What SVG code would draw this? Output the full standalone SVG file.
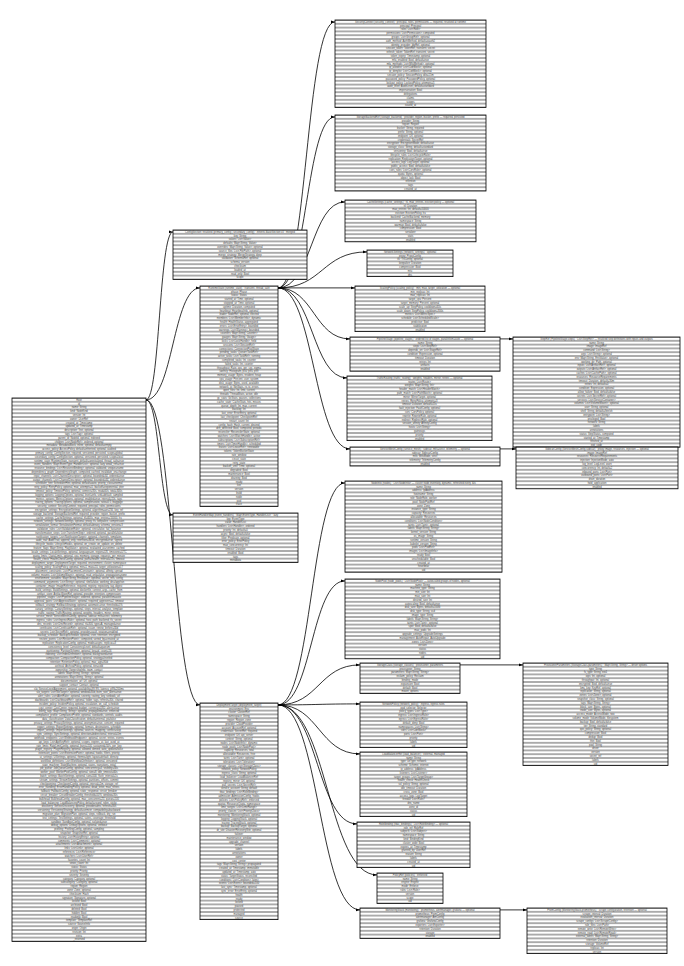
<svg xmlns="http://www.w3.org/2000/svg" width="684" height="966" viewBox="0 0 684 966">
<style>
.node rect{fill:url(#rows);stroke:#000;stroke-width:0.8}
.node text{font-family:"Liberation Sans",Arial,sans-serif;font-size:2.6px;fill:#444;text-anchor:middle}
.edges path{fill:none;stroke:#000;stroke-width:0.8;marker-end:url(#ah)}
</style>
<defs>
<pattern id="rows" width="4" height="3.8" patternUnits="userSpaceOnUse"><rect width="4" height="3.8" fill="#fff"/><rect y="0" width="4" height="0.32" fill="#000"/><rect y="3.48" width="4" height="0.32" fill="#000"/></pattern>
<marker id="ah" markerWidth="4" markerHeight="4" refX="4" refY="2" orient="auto" markerUnits="userSpaceOnUse"><path d="M0,0.6L4,2L0,3.4z" fill="#000"/></marker>
</defs>
<rect width="684" height="966" fill="#fff"/>
<g class="edges">
<path d="M146,399.9C160,399.9 159,231.9 173,231.9"/>
<path d="M146,399.9C173,399.9 173,287.9 200,287.9"/>
<path d="M146,399.9C160,399.9 159,514.9 173,514.9"/>
<path d="M146,399.9C173,399.9 173,704.9 200,704.9"/>
<path d="M278,287.9C307,287.9 306,21.9 335,21.9"/>
<path d="M278,287.9C307,287.9 306,116.9 335,116.9"/>
<path d="M278,287.9C312,287.9 311,201.9 345,201.9"/>
<path d="M278,287.9C323,287.9 322,251.9 367,251.9"/>
<path d="M278,287.9L355,287.9"/>
<path d="M278,287.9C314,287.9 314,338.9 350,338.9"/>
<path d="M278,287.9C313,287.9 312,377.9 347,377.9"/>
<path d="M278,287.9C314,287.9 314,448.9 350,448.9"/>
<path d="M278,704.9C312,704.9 311,482.9 345,482.9"/>
<path d="M278,704.9C312,704.9 311,580.9 345,580.9"/>
<path d="M278,704.9C319,704.9 319,664.9 360,664.9"/>
<path d="M278,704.9C319,704.9 319,703.9 360,703.9"/>
<path d="M278,704.9C319,704.9 319,753.9 360,753.9"/>
<path d="M278,704.9C318,704.9 317,823.9 357,823.9"/>
<path d="M278,704.9C328,704.9 327,874.9 377,874.9"/>
<path d="M278,704.9C319,704.9 319,909.9 360,909.9"/>
<path d="M500,338.9L513,338.9"/>
<path d="M500,448.9L516,448.9"/>
<path d="M460,664.9L523,664.9"/>
<path d="M500,909.9L527,909.9"/>
</g>
<g id="n_A" class="node" transform="translate(12,398)"><rect width="134" height="543.4"/><text y="2.8"><tspan x="67">Root</tspan><tspan x="67" dy="3.8">id</tspan><tspan x="67" dy="3.8">name: String</tspan><tspan x="67" dy="3.8">kind: NodeKind</tspan><tspan x="67" dy="3.8">version: Int</tspan><tspan x="67" dy="3.8">owner: UserRef</tspan><tspan x="67" dy="3.8">created_at: Timestamp</tspan><tspan x="67" dy="3.8">updated_at: Timestamp</tspan><tspan x="67" dy="3.8">description: Text, optional</tspan><tspan x="67" dy="3.8">tags: List&lt;Tag&gt;, optional</tspan><tspan x="67" dy="3.8">parent_id: NodeId, optional, indexed</tspan><tspan x="67" dy="3.8">children: List&lt;NodeRef&gt;, ordered, optional</tspan><tspan x="67" dy="3.8">metadata: MetadataBlock, inline, optional, default=empty</tspan><tspan x="67" dy="3.8">access_policy: AccessPolicy, default=inherited, optional, audited</tspan><tspan x="67" dy="3.8">primary_config: ConfigSection, required, versioned, persisted, scope=global</tspan><tspan x="67" dy="3.8">secondary_config: ConfigSection, optional, versioned, persisted, scope=local</tspan><tspan x="67" dy="3.8">runtime_state: RuntimeState, transient, default=uninitialized, thread_safe=true</tspan><tspan x="67" dy="3.8">event_handlers: Map&lt;EventType, HandlerList&gt;, optional, lazy, weak_refs=true</tspan><tspan x="67" dy="3.8">resource_bindings: List&lt;ResourceBinding&gt;, optional, validated, unique=name</tspan><tspan x="67" dy="3.8">dependency_graph: DependencyGraph, computed, cached, invalidate_on=change</tspan><tspan x="67" dy="3.8">input_channels: List&lt;ChannelDescriptor&gt;, optional, bounded=64, ordered=true</tspan><tspan x="67" dy="3.8">output_channels: List&lt;ChannelDescriptor&gt;, optional, bounded=64, ordered=true</tspan><tspan x="67" dy="3.8">scheduler_hint: SchedulerHint, optional, default=auto, priority_class=normal</tspan><tspan x="67" dy="3.8">retry_policy: RetryPolicy, optional, max_attempts=5, backoff=exponential, jitter</tspan><tspan x="67" dy="3.8">timeout_policy: TimeoutPolicy, optional, connect=30s, read=60s, total=300s</tspan><tspan x="67" dy="3.8">logging_options: LoggingOptions, optional, level=info, sink=default, sampled</tspan><tspan x="67" dy="3.8">metrics_options: MetricsOptions, optional, enabled=true, interval=10s, tags</tspan><tspan x="67" dy="3.8">tracing_options: TracingOptions, optional, sampler=ratio, ratio=0.1, baggage</tspan><tspan x="67" dy="3.8">security_context: SecurityContext, required, principal, roles, permissions</tspan><tspan x="67" dy="3.8">encryption_settings: EncryptionSettings, optional, algorithm=aes256, key_ref</tspan><tspan x="67" dy="3.8">storage_backend: StorageBackendRef, required, provider, region, bucket, prefix</tspan><tspan x="67" dy="3.8">cache_settings: CacheSettings, optional, ttl=600s, max_entries=10000, lru</tspan><tspan x="67" dy="3.8">network_settings: NetworkSettings, optional, proxy, tls, keepalive, compression</tspan><tspan x="67" dy="3.8">serialization_format: SerializationFormat, default=binary, schema_version=3</tspan><tspan x="67" dy="3.8">validation_rules: List&lt;ValidationRule&gt;, optional, strict=false, fail_fast=true</tspan><tspan x="67" dy="3.8">transformation_steps: List&lt;TransformStep&gt;, ordered, optional, parallel=false</tspan><tspan x="67" dy="3.8">notification_targets: List&lt;NotificationTarget&gt;, optional, channels, templates</tspan><tspan x="67" dy="3.8">audit_trail: AuditTrail, append_only, retention=365d, encrypted=true, signed</tspan><tspan x="67" dy="3.8">lifecycle_hooks: LifecycleHooks, optional, on_create, on_update, on_delete</tspan><tspan x="67" dy="3.8">feature_flags: Map&lt;String, FlagValue&gt;, optional, evaluated_at=runtime, cached</tspan><tspan x="67" dy="3.8">locale_settings: LocaleSettings, optional, language=en, region=US, timezone=UTC</tspan><tspan x="67" dy="3.8">quota_limits: QuotaLimits, optional, cpu, memory, storage, requests_per_minute</tspan><tspan x="67" dy="3.8">health_check: HealthCheckConfig, optional, path=/health, interval=15s, timeout</tspan><tspan x="67" dy="3.8">deployment_target: DeploymentTarget, required, environment, cluster, namespace</tspan><tspan x="67" dy="3.8">scaling_policy: ScalingPolicy, optional, min=1, max=10, target_utilization=0.7</tspan><tspan x="67" dy="3.8">placement_constraints: List&lt;PlacementConstraint&gt;, optional, affinity, spread</tspan><tspan x="67" dy="3.8">volume_mounts: List&lt;VolumeMount&gt;, optional, read_only=false, propagation=none</tspan><tspan x="67" dy="3.8">environment_variables: Map&lt;String, EnvValue&gt;, optional, secret_refs, config</tspan><tspan x="67" dy="3.8">command_arguments: List&lt;String&gt;, optional, shell=false, working_dir=/app/run</tspan><tspan x="67" dy="3.8">container_image: ImageReference, required, registry, repository, tag, digest</tspan><tspan x="67" dy="3.8">build_settings: BuildSettings, optional, dockerfile, context, args, cache_from</tspan><tspan x="67" dy="3.8">artifact_store: ArtifactStoreRef, optional, provider, retention, compression</tspan><tspan x="67" dy="3.8">pipeline_stages: List&lt;PipelineStage&gt;, ordered, optional, parallelism=auto</tspan><tspan x="67" dy="3.8">approval_gates: List&lt;ApprovalGate&gt;, optional, required_approvers=2, timeout</tspan><tspan x="67" dy="3.8">rollback_strategy: RollbackStrategy, optional, automatic=true, threshold=5%</tspan><tspan x="67" dy="3.8">canary_settings: CanarySettings, optional, steps, interval, analysis_template</tspan><tspan x="67" dy="3.8">traffic_routing: TrafficRouting, optional, weights, headers, mirror, retries</tspan><tspan x="67" dy="3.8">service_mesh: ServiceMeshConfig, optional, sidecar, mtls=strict, telemetry</tspan><tspan x="67" dy="3.8">ingress_rules: List&lt;IngressRule&gt;, optional, host, path, backend, tls_secret</tspan><tspan x="67" dy="3.8">dns_records: List&lt;DnsRecord&gt;, optional, ttl=300, type=A, managed=true</tspan><tspan x="67" dy="3.8">certificates: List&lt;CertificateRef&gt;, optional, issuer, renew_before=30d</tspan><tspan x="67" dy="3.8">secrets: List&lt;SecretRef&gt;, optional, provider=vault, rotation=enabled</tspan><tspan x="67" dy="3.8">backup_schedule: BackupSchedule, optional, cron, retention, encrypted</tspan><tspan x="67" dy="3.8">restore_points: List&lt;RestorePoint&gt;, computed, sorted_by=created_at</tspan><tspan x="67" dy="3.8">replication: ReplicationConfig, optional, mode=async, replicas=3</tspan><tspan x="67" dy="3.8">consistency_level: ConsistencyLevel, default=quorum</tspan><tspan x="67" dy="3.8">partitioning: PartitionScheme, optional, key=id, count=16</tspan><tspan x="67" dy="3.8">indexing: List&lt;IndexDefinition&gt;, optional, background=true</tspan><tspan x="67" dy="3.8">compaction: CompactionPolicy, optional, strategy=leveled</tspan><tspan x="67" dy="3.8">retention: RetentionPolicy, optional, max_age=90d</tspan><tspan x="67" dy="3.8">archival: ArchivalPolicy, optional, tier=cold</tspan><tspan x="67" dy="3.8">ownership: OwnershipInfo, team, contact</tspan><tspan x="67" dy="3.8">labels: Map&lt;String, String&gt;, optional</tspan><tspan x="67" dy="3.8">annotations: Map&lt;String, String&gt;, optional</tspan><tspan x="67" dy="3.8">documentation_url: Url, optional</tspan><tspan x="67" dy="3.8">support_contact: Contact, optional</tspan><tspan x="67" dy="3.8">sla: ServiceLevelAgreement, optional, availability=99.9%, latency_p99=200ms</tspan><tspan x="67" dy="3.8">slo_targets: List&lt;SloTarget&gt;, optional, window=30d, burn_rate_alerts=true</tspan><tspan x="67" dy="3.8">alert_rules: List&lt;AlertRule&gt;, optional, severity, routing_key, runbook_url</tspan><tspan x="67" dy="3.8">dashboards: List&lt;DashboardRef&gt;, optional, folder, tags, refresh=30s, shared</tspan><tspan x="67" dy="3.8">incident_policy: IncidentPolicy, optional, escalation, on_call_schedule</tspan><tspan x="67" dy="3.8">cost_center: CostCenter, required, budget, currency=USD, alerts=true</tspan><tspan x="67" dy="3.8">billing_tags: Map&lt;String, String&gt;, optional, propagated=true, enforced</tspan><tspan x="67" dy="3.8">compliance_profile: ComplianceProfile, optional, standards, controls, audits</tspan><tspan x="67" dy="3.8">data_classification: DataClassification, default=internal, pii=false</tspan><tspan x="67" dy="3.8">privacy_settings: PrivacySettings, optional, anonymize=true, consent_required</tspan><tspan x="67" dy="3.8">export_settings: ExportSettings, optional, formats, destinations, schedule</tspan><tspan x="67" dy="3.8">import_settings: ImportSettings, optional, sources, mapping, conflict=skip</tspan><tspan x="67" dy="3.8">sync_settings: SyncSettings, optional, direction=bidirectional, interval=5m</tspan><tspan x="67" dy="3.8">webhook_endpoints: List&lt;WebhookEndpoint&gt;, optional, secret, retries, events</tspan><tspan x="67" dy="3.8">api_keys: List&lt;ApiKeyRef&gt;, optional, scopes, expires_at, last_used_at</tspan><tspan x="67" dy="3.8">rate_limits: RateLimitConfig, optional, burst=100, sustained=50/s, per_key</tspan><tspan x="67" dy="3.8">plugin_registry: PluginRegistry, optional, allowed, denied, auto_update=false</tspan><tspan x="67" dy="3.8">extension_points: List&lt;ExtensionPoint&gt;, optional, hooks, filters, priority</tspan><tspan x="67" dy="3.8">ui_settings: UiSettings, optional, theme=light, layout=default, density</tspan><tspan x="67" dy="3.8">workflow_definitions: List&lt;WorkflowDefinition&gt;, optional, versioned</tspan><tspan x="67" dy="3.8">state_machine: StateMachine, optional, states, transitions, initial</tspan><tspan x="67" dy="3.8">job_queue: JobQueueConfig, optional, concurrency=4, visibility=30s</tspan><tspan x="67" dy="3.8">worker_pool: WorkerPoolConfig, optional, size=8, idle_timeout=60s</tspan><tspan x="67" dy="3.8">batch_settings: BatchSettings, optional, size=500, flush_interval=1s</tspan><tspan x="67" dy="3.8">stream_settings: StreamSettings, optional, partitions, offsets, commit</tspan><tspan x="67" dy="3.8">checkpointing: CheckpointConfig, optional, interval=1m, storage_ref</tspan><tspan x="67" dy="3.8">error_handling: ErrorHandlingPolicy, optional, dead_letter, max_retries</tspan><tspan x="67" dy="3.8">fallback: FallbackConfig, optional, static_response, circuit_breaker</tspan><tspan x="67" dy="3.8">circuit_breaker: CircuitBreakerConfig, threshold=50%, window=30s</tspan><tspan x="67" dy="3.8">bulkhead: BulkheadConfig, optional, max_concurrent=20, queue=100</tspan><tspan x="67" dy="3.8">load_balancing: LoadBalancingPolicy, default=round_robin, sticky</tspan><tspan x="67" dy="3.8">discovery: ServiceDiscovery, optional, provider=dns, refresh=30s</tspan><tspan x="67" dy="3.8">versioning: VersioningStrategy, default=semver, compatibility=backward</tspan><tspan x="67" dy="3.8">migration_plan: MigrationPlan, optional, steps, rollback, dry_run</tspan><tspan x="67" dy="3.8">test_settings: TestSettings, optional, suites, coverage_threshold</tspan><tspan x="67" dy="3.8">sandbox: SandboxConfig, optional, isolated=true</tspan><tspan x="67" dy="3.8">debug_options: DebugOptions, optional, verbose</tspan><tspan x="67" dy="3.8">profiling: ProfilingConfig, optional, sampling</tspan><tspan x="67" dy="3.8">snapshot: SnapshotRef, optional</tspan><tspan x="67" dy="3.8">history: List&lt;HistoryEntry&gt;, optional</tspan><tspan x="67" dy="3.8">comments: List&lt;Comment&gt;, optional</tspan><tspan x="67" dy="3.8">attachments: List&lt;Attachment&gt;, optional</tspan><tspan x="67" dy="3.8">links: List&lt;Link&gt;, optional</tspan><tspan x="67" dy="3.8">references: List&lt;Reference&gt;</tspan><tspan x="67" dy="3.8">watchers: List&lt;UserRef&gt;</tspan><tspan x="67" dy="3.8">favorites_count: Int</tspan><tspan x="67" dy="3.8">views_count: Int</tspan><tspan x="67" dy="3.8">status: Status</tspan><tspan x="67" dy="3.8">priority: Priority</tspan><tspan x="67" dy="3.8">severity: Severity</tspan><tspan x="67" dy="3.8">category: Category, optional</tspan><tspan x="67" dy="3.8">subcategory: Category, optional</tspan><tspan x="67" dy="3.8">region: Region</tspan><tspan x="67" dy="3.8">zone: Zone, optional</tspan><tspan x="67" dy="3.8">checksum: Hash</tspan><tspan x="67" dy="3.8">signature: Signature, optional</tspan><tspan x="67" dy="3.8">locked: Bool</tspan><tspan x="67" dy="3.8">archived: Bool</tspan><tspan x="67" dy="3.8">deleted: Bool</tspan><tspan x="67" dy="3.8">hidden: Bool</tspan><tspan x="67" dy="3.8">readonly: Bool</tspan><tspan x="67" dy="3.8">template: TemplateRef</tspan><tspan x="67" dy="3.8">source: SourceInfo</tspan><tspan x="67" dy="3.8">origin: Origin</tspan><tspan x="67" dy="3.8">revision: Int</tspan><tspan x="67" dy="3.8">extra</tspan><tspan x="67" dy="3.8">_reserved</tspan></text></g>
<g id="n_B" class="node" transform="translate(173,230)"><rect width="134" height="49.4"/><text y="2.8"><tspan x="67">ConfigSection::resolved (primary_config | secondary_config) · inherits BaseSection v3 · merged</tspan><tspan x="67" dy="3.8">key: String</tspan><tspan x="67" dy="3.8">values: List&lt;Value&gt;</tspan><tspan x="67" dy="3.8">defaults: Map&lt;String, Value&gt;</tspan><tspan x="67" dy="3.8">overrides: Map&lt;String, Value&gt;, optional</tspan><tspan x="67" dy="3.8">source_files: List&lt;FilePath&gt;, optional</tspan><tspan x="67" dy="3.8">merge_strategy: MergeStrategy, deep</tspan><tspan x="67" dy="3.8">validation: SchemaRef, optional</tspan><tspan x="67" dy="3.8">schema_version</tspan><tspan x="67" dy="3.8">checksum</tspan><tspan x="67" dy="3.8">loaded_at</tspan><tspan x="67" dy="3.8">read_only: Bool</tspan><tspan x="67" dy="3.8">scope</tspan></text></g>
<g id="n_C" class="node" transform="translate(200,286)"><rect width="78" height="220.4"/><text y="2.8"><tspan x="39">RuntimeState (runtime_state) · transient, thread_safe</tspan><tspan x="39" dy="3.8">phase: Phase</tspan><tspan x="39" dy="3.8">status: Status</tspan><tspan x="39" dy="3.8">started_at: Time, optional</tspan><tspan x="39" dy="3.8">stopped_at: Time, optional</tspan><tspan x="39" dy="3.8">uptime: Duration, computed</tspan><tspan x="39" dy="3.8">heartbeat: HeartbeatInfo, optional</tspan><tspan x="39" dy="3.8">leader: NodeRef, optional, elected</tspan><tspan x="39" dy="3.8">members: List&lt;MemberInfo&gt;, dynamic</tspan><tspan x="39" dy="3.8">health: HealthStatus, aggregated</tspan><tspan x="39" dy="3.8">errors: List&lt;ErrorEntry&gt;, bounded</tspan><tspan x="39" dy="3.8">warnings: List&lt;Warning&gt;, bounded</tspan><tspan x="39" dy="3.8">counters: Map&lt;String, Counter&gt;</tspan><tspan x="39" dy="3.8">gauges: Map&lt;String, Gauge&gt;</tspan><tspan x="39" dy="3.8">locks: List&lt;LockHandle&gt;, held</tspan><tspan x="39" dy="3.8">sessions: List&lt;SessionRef&gt;</tspan><tspan x="39" dy="3.8">connections: ConnectionPoolState</tspan><tspan x="39" dy="3.8">pending_tasks: Queue&lt;TaskRef&gt;</tspan><tspan x="39" dy="3.8">active_tasks: List&lt;TaskRef&gt;, running</tspan><tspan x="39" dy="3.8">completed_tasks: Int, counter</tspan><tspan x="39" dy="3.8">failed_tasks: Int, counter</tspan><tspan x="39" dy="3.8">throughput: Rate, ops_per_sec, ewma</tspan><tspan x="39" dy="3.8">latency: Histogram, p50, p95, p99</tspan><tspan x="39" dy="3.8">memory_usage: Bytes, resident, heap</tspan><tspan x="39" dy="3.8">cpu_usage: Percent, user, system</tspan><tspan x="39" dy="3.8">disk_usage: Bytes, used, available</tspan><tspan x="39" dy="3.8">network_io: NetStats, rx, tx, errors</tspan><tspan x="39" dy="3.8">open_files: Int, limit, current</tspan><tspan x="39" dy="3.8">threads: ThreadStats, active, idle</tspan><tspan x="39" dy="3.8">gc_stats: GcStats, pauses, collections</tspan><tspan x="39" dy="3.8">cache_state: CacheStats, hits, misses</tspan><tspan x="39" dy="3.8">queue_depth: Int, max, current</tspan><tspan x="39" dy="3.8">backlog: Int</tspan><tspan x="39" dy="3.8">last_error: ErrorEntry, optional</tspan><tspan x="39" dy="3.8">last_checkpoint: CheckpointRef</tspan><tspan x="39" dy="3.8">restart_count: Int</tspan><tspan x="39" dy="3.8">config_hash: Hash, current, desired</tspan><tspan x="39" dy="3.8">drift_detected: Bool, computed, periodic</tspan><tspan x="39" dy="3.8">reconciler: ReconcilerState, optional</tspan><tspan x="39" dy="3.8">watchers: List&lt;WatchHandle&gt;, active</tspan><tspan x="39" dy="3.8">subscriptions: List&lt;SubscriptionRef&gt;</tspan><tspan x="39" dy="3.8">timers: List&lt;TimerHandle&gt;, scheduled</tspan><tspan x="39" dy="3.8">leases: List&lt;LeaseRef&gt;, renewable</tspan><tspan x="39" dy="3.8">tokens: TokenBucketState</tspan><tspan x="39" dy="3.8">rate_window</tspan><tspan x="39" dy="3.8">circuit_state</tspan><tspan x="39" dy="3.8">retry_state</tspan><tspan x="39" dy="3.8">backoff_until: Time, optional</tspan><tspan x="39" dy="3.8">degraded: Bool</tspan><tspan x="39" dy="3.8">maintenance: Bool</tspan><tspan x="39" dy="3.8">draining: Bool</tspan><tspan x="39" dy="3.8">ready</tspan><tspan x="39" dy="3.8">live</tspan><tspan x="39" dy="3.8">version</tspan><tspan x="39" dy="3.8">build</tspan><tspan x="39" dy="3.8">node</tspan><tspan x="39" dy="3.8">pod</tspan><tspan x="39" dy="3.8">trace</tspan></text></g>
<g id="n_D" class="node" transform="translate(173,513)"><rect width="125" height="49.4"/><text y="2.8"><tspan x="62.5">EventHandlerMap (event_handlers) · Map&lt;EventType, HandlerList&gt; · lazy</tspan><tspan x="62.5" dy="3.8">key: EventType</tspan><tspan x="62.5" dy="3.8">value: HandlerList</tspan><tspan x="62.5" dy="3.8">handlers: List&lt;Handler&gt;, ordered</tspan><tspan x="62.5" dy="3.8">priority: Int, default=0</tspan><tspan x="62.5" dy="3.8">async: Bool, default=false</tspan><tspan x="62.5" dy="3.8">filter: Predicate, optional</tspan><tspan x="62.5" dy="3.8">error_policy: ErrorPolicy</tspan><tspan x="62.5" dy="3.8">max_concurrency: Int</tspan><tspan x="62.5" dy="3.8">timeout: Duration</tspan><tspan x="62.5" dy="3.8">enabled: Bool</tspan><tspan x="62.5" dy="3.8">tags</tspan><tspan x="62.5" dy="3.8">metadata</tspan></text></g>
<g id="n_E" class="node" transform="translate(200,703)"><rect width="78" height="216.6"/><text y="2.8"><tspan x="39">DeploymentTarget (deployment_target)</tspan><tspan x="39" dy="3.8">environment: Env</tspan><tspan x="39" dy="3.8">cluster: ClusterRef</tspan><tspan x="39" dy="3.8">namespace: String</tspan><tspan x="39" dy="3.8">region: Region, zone</tspan><tspan x="39" dy="3.8">provider: CloudProvider</tspan><tspan x="39" dy="3.8">account: AccountRef, optional</tspan><tspan x="39" dy="3.8">credentials: SecretRef, required</tspan><tspan x="39" dy="3.8">endpoint: Url, api_server</tspan><tspan x="39" dy="3.8">context: String, optional</tspan><tspan x="39" dy="3.8">nodes: List&lt;NodeInfo&gt;, dynamic</tspan><tspan x="39" dy="3.8">node_pools: List&lt;NodePool&gt;</tspan><tspan x="39" dy="3.8">capacity: Resources, total</tspan><tspan x="39" dy="3.8">allocatable: Resources, free</tspan><tspan x="39" dy="3.8">taints: List&lt;Taint&gt;, optional</tspan><tspan x="39" dy="3.8">tolerations: List&lt;Toleration&gt;</tspan><tspan x="39" dy="3.8">storage_classes: List&lt;StorageClass&gt;</tspan><tspan x="39" dy="3.8">network_policy: NetworkPolicy</tspan><tspan x="39" dy="3.8">ingress_class: String, optional</tspan><tspan x="39" dy="3.8">load_balancer: LoadBalancerRef</tspan><tspan x="39" dy="3.8">registry_mirror: Url, optional</tspan><tspan x="39" dy="3.8">pull_secrets: List&lt;SecretRef&gt;</tspan><tspan x="39" dy="3.8">service_account: String, default</tspan><tspan x="39" dy="3.8">rbac_bindings: List&lt;RoleBinding&gt;</tspan><tspan x="39" dy="3.8">admission: AdmissionConfig, hooks</tspan><tspan x="39" dy="3.8">policies: List&lt;PolicyRef&gt;, enforced</tspan><tspan x="39" dy="3.8">quotas: ResourceQuota, namespace</tspan><tspan x="39" dy="3.8">limit_ranges: List&lt;LimitRange&gt;</tspan><tspan x="39" dy="3.8">priority_classes: List&lt;PriorityClass&gt;</tspan><tspan x="39" dy="3.8">monitoring: MonitoringStack, optional</tspan><tspan x="39" dy="3.8">logging: LoggingStack, optional</tspan><tspan x="39" dy="3.8">tracing: TracingStack, optional</tspan><tspan x="39" dy="3.8">backup: BackupTarget, optional</tspan><tspan x="39" dy="3.8">dr_site: DisasterRecoverySite, optional</tspan><tspan x="39" dy="3.8">failover</tspan><tspan x="39" dy="3.8">maintenance_window</tspan><tspan x="39" dy="3.8">upgrade_channel</tspan><tspan x="39" dy="3.8">version</tspan><tspan x="39" dy="3.8">labels</tspan><tspan x="39" dy="3.8">annotations</tspan><tspan x="39" dy="3.8">owner</tspan><tspan x="39" dy="3.8">cost_center</tspan><tspan x="39" dy="3.8">tags: Map&lt;String, String&gt;, propagated</tspan><tspan x="39" dy="3.8">created_at: Timestamp, immutable</tspan><tspan x="39" dy="3.8">updated_at: Timestamp, auto</tspan><tspan x="39" dy="3.8">status: TargetStatus, reconciled</tspan><tspan x="39" dy="3.8">conditions: List&lt;Condition&gt;, latest</tspan><tspan x="39" dy="3.8">events: List&lt;Event&gt;, bounded=100</tspan><tspan x="39" dy="3.8">last_sync: Timestamp, optional</tspan><tspan x="39" dy="3.8">sync_error: ErrorEntry, optional</tspan><tspan x="39" dy="3.8">health</tspan><tspan x="39" dy="3.8">ready</tspan><tspan x="39" dy="3.8">locked</tspan><tspan x="39" dy="3.8">paused</tspan><tspan x="39" dy="3.8">protected</tspan><tspan x="39" dy="3.8">managed</tspan><tspan x="39" dy="3.8">source</tspan></text></g>
<g id="n_F1" class="node" transform="translate(335,20)"><rect width="151" height="87.4"/><text y="2.8"><tspan x="75.5">SecurityContext (security_context) · principal, roles, permissions — required, resolved at runtime</tspan><tspan x="75.5" dy="3.8">principal: Principal</tspan><tspan x="75.5" dy="3.8">roles: List&lt;Role&gt;</tspan><tspan x="75.5" dy="3.8">permissions: List&lt;Permission&gt;, computed</tspan><tspan x="75.5" dy="3.8">groups: List&lt;GroupRef&gt;, optional</tspan><tspan x="75.5" dy="3.8">auth_method: AuthMethod, default=oauth2</tspan><tspan x="75.5" dy="3.8">identity_provider: IdpRef, optional</tspan><tspan x="75.5" dy="3.8">session_token: TokenRef, transient, secret</tspan><tspan x="75.5" dy="3.8">refresh_token: TokenRef, transient, secret</tspan><tspan x="75.5" dy="3.8">token_expiry: Timestamp, optional</tspan><tspan x="75.5" dy="3.8">mfa_enabled: Bool, default=true</tspan><tspan x="75.5" dy="3.8">mfa_methods: List&lt;MfaMethod&gt;, optional</tspan><tspan x="75.5" dy="3.8">ip_allowlist: List&lt;CidrBlock&gt;, optional</tspan><tspan x="75.5" dy="3.8">ip_denylist: List&lt;CidrBlock&gt;, optional</tspan><tspan x="75.5" dy="3.8">session_policy: SessionPolicy, idle=15m</tspan><tspan x="75.5" dy="3.8">password_policy: PasswordPolicy, optional</tspan><tspan x="75.5" dy="3.8">lockout_policy: LockoutPolicy, attempts=5</tspan><tspan x="75.5" dy="3.8">audit_level: AuditLevel, default=standard</tspan><tspan x="75.5" dy="3.8">impersonation: Bool</tspan><tspan x="75.5" dy="3.8">delegations</tspan><tspan x="75.5" dy="3.8">claims</tspan><tspan x="75.5" dy="3.8">scopes</tspan><tspan x="75.5" dy="3.8">issued_at</tspan></text></g>
<g id="n_F2" class="node" transform="translate(335,115)"><rect width="151" height="76"/><text y="2.8"><tspan x="75.5">StorageBackendRef (storage_backend) · provider, region, bucket, prefix — required, persisted</tspan><tspan x="75.5" dy="3.8">provider: String</tspan><tspan x="75.5" dy="3.8">region: Region</tspan><tspan x="75.5" dy="3.8">bucket: String, required</tspan><tspan x="75.5" dy="3.8">prefix: String, optional</tspan><tspan x="75.5" dy="3.8">endpoint: Url, optional</tspan><tspan x="75.5" dy="3.8">credentials: SecretRef</tspan><tspan x="75.5" dy="3.8">encryption: EncryptionMode, default=sse</tspan><tspan x="75.5" dy="3.8">storage_class: String, default=standard</tspan><tspan x="75.5" dy="3.8">versioning: Bool, default=true</tspan><tspan x="75.5" dy="3.8">lifecycle_rules: List&lt;LifecycleRule&gt;</tspan><tspan x="75.5" dy="3.8">replication: ReplicationTarget, optional</tspan><tspan x="75.5" dy="3.8">access_logs: LogTarget, optional</tspan><tspan x="75.5" dy="3.8">public_access: Bool, default=false</tspan><tspan x="75.5" dy="3.8">cors_rules: List&lt;CorsRule&gt;, optional</tspan><tspan x="75.5" dy="3.8">quota: Bytes, optional</tspan><tspan x="75.5" dy="3.8">object_lock: Bool</tspan><tspan x="75.5" dy="3.8">retention</tspan><tspan x="75.5" dy="3.8">tags</tspan><tspan x="75.5" dy="3.8">created_at</tspan></text></g>
<g id="n_F3" class="node" transform="translate(345,200)"><rect width="131" height="41.8"/><text y="2.8"><tspan x="65.5">CacheSettings (cache_settings) · ttl, max_entries, eviction policy — optional</tspan><tspan x="65.5" dy="3.8">ttl: Duration</tspan><tspan x="65.5" dy="3.8">max_entries: Int, default=10000</tspan><tspan x="65.5" dy="3.8">eviction: EvictionPolicy, lru</tspan><tspan x="65.5" dy="3.8">backend: CacheBackend, memory</tspan><tspan x="65.5" dy="3.8">namespace: String</tspan><tspan x="65.5" dy="3.8">warmup: Bool, default=false</tspan><tspan x="65.5" dy="3.8">compression: Bool</tspan><tspan x="65.5" dy="3.8">serializer</tspan><tspan x="65.5" dy="3.8">stats</tspan><tspan x="65.5" dy="3.8">enabled</tspan></text></g>
<g id="n_F4" class="node" transform="translate(367,250)"><rect width="86" height="26.6"/><text y="2.8"><tspan x="43">NetworkSettings (network_settings) · optional</tspan><tspan x="43" dy="3.8">proxy: ProxyConfig</tspan><tspan x="43" dy="3.8">tls: TlsConfig, optional</tspan><tspan x="43" dy="3.8">keepalive: Duration</tspan><tspan x="43" dy="3.8">compression: Bool</tspan><tspan x="43" dy="3.8">mtu</tspan><tspan x="43" dy="3.8">dns</tspan></text></g>
<g id="n_F5" class="node" transform="translate(355,286)"><rect width="130" height="45.6"/><text y="2.8"><tspan x="65">ScalingPolicy (scaling_policy) · min, max, target_utilization — optional</tspan><tspan x="65" dy="3.8">min_replicas: Int</tspan><tspan x="65" dy="3.8">max_replicas: Int</tspan><tspan x="65" dy="3.8">target_cpu: Percent</tspan><tspan x="65" dy="3.8">target_memory: Percent, optional</tspan><tspan x="65" dy="3.8">scale_up: StepPolicy, cooldown=60s</tspan><tspan x="65" dy="3.8">scale_down: StepPolicy, cooldown=300s</tspan><tspan x="65" dy="3.8">metrics: List&lt;MetricSpec&gt;</tspan><tspan x="65" dy="3.8">schedule: List&lt;ScheduledScale&gt;</tspan><tspan x="65" dy="3.8">predictive: Bool</tspan><tspan x="65" dy="3.8">stabilization</tspan><tspan x="65" dy="3.8">enabled</tspan></text></g>
<g id="n_F6" class="node" transform="translate(350,337)"><rect width="150" height="34.2"/><text y="2.8"><tspan x="75">PipelineStage (pipeline_stages) · ordered list of stages, parallelism=auto — optional</tspan><tspan x="75" dy="3.8">name: String</tspan><tspan x="75" dy="3.8">steps: List&lt;StepRef&gt;</tspan><tspan x="75" dy="3.8">depends_on: List&lt;StageRef&gt;</tspan><tspan x="75" dy="3.8">condition: Expression, optional</tspan><tspan x="75" dy="3.8">timeout: Duration</tspan><tspan x="75" dy="3.8">retries: Int</tspan><tspan x="75" dy="3.8">artifacts</tspan><tspan x="75" dy="3.8">enabled</tspan></text></g>
<g id="n_F7" class="node" transform="translate(347,376)"><rect width="145" height="64.6"/><text y="2.8"><tspan x="72.5">TrafficRouting (traffic_routing) · weights, headers, mirror, retries — optional</tspan><tspan x="72.5" dy="3.8">routes: List&lt;Route&gt;</tspan><tspan x="72.5" dy="3.8">weights: Map&lt;String, Int&gt;</tspan><tspan x="72.5" dy="3.8">header_match: List&lt;HeaderMatch&gt;</tspan><tspan x="72.5" dy="3.8">path_match: List&lt;PathMatch&gt;, optional</tspan><tspan x="72.5" dy="3.8">mirror: MirrorTarget, optional</tspan><tspan x="72.5" dy="3.8">retries: RetryPolicy, attempts=3</tspan><tspan x="72.5" dy="3.8">timeout: Duration, default=15s</tspan><tspan x="72.5" dy="3.8">fault_injection: FaultConfig, optional</tspan><tspan x="72.5" dy="3.8">cors: CorsPolicy, optional</tspan><tspan x="72.5" dy="3.8">rewrite: RewriteRule, optional</tspan><tspan x="72.5" dy="3.8">redirect: RedirectRule, optional</tspan><tspan x="72.5" dy="3.8">session_affinity: AffinityConfig</tspan><tspan x="72.5" dy="3.8">hosts: List&lt;String&gt;</tspan><tspan x="72.5" dy="3.8">gateways</tspan><tspan x="72.5" dy="3.8">priority</tspan><tspan x="72.5" dy="3.8">enabled</tspan></text></g>
<g id="n_F8" class="node" transform="translate(350,447)"><rect width="150" height="19"/><text y="2.8"><tspan x="75">ServiceMeshConfig (service_mesh) · sidecar, mtls=strict, telemetry — optional</tspan><tspan x="75" dy="3.8">sidecar: SidecarConfig</tspan><tspan x="75" dy="3.8">mtls: MtlsMode, strict</tspan><tspan x="75" dy="3.8">telemetry: TelemetryConfig</tspan><tspan x="75" dy="3.8">enabled</tspan></text></g>
<g id="n_G1" class="node" transform="translate(513,337)"><rect width="167" height="110.2"/><text y="2.8"><tspan x="83.5">StepRef (PipelineStage.steps) · List&lt;StepRef&gt; — resolved step definitions with inputs and outputs</tspan><tspan x="83.5" dy="3.8">name: String</tspan><tspan x="83.5" dy="3.8">image: ImageRef</tspan><tspan x="83.5" dy="3.8">command: List&lt;String&gt;</tspan><tspan x="83.5" dy="3.8">args: List&lt;String&gt;, optional</tspan><tspan x="83.5" dy="3.8">env: Map&lt;String, EnvValue&gt;, optional</tspan><tspan x="83.5" dy="3.8">working_dir: Path, optional</tspan><tspan x="83.5" dy="3.8">inputs: List&lt;ArtifactRef&gt;, optional</tspan><tspan x="83.5" dy="3.8">outputs: List&lt;ArtifactRef&gt;, optional</tspan><tspan x="83.5" dy="3.8">caches: List&lt;CachePath&gt;, optional</tspan><tspan x="83.5" dy="3.8">resources: ResourceRequirements</tspan><tspan x="83.5" dy="3.8">timeout: Duration, default=30m</tspan><tspan x="83.5" dy="3.8">retries: Int, default=0</tspan><tspan x="83.5" dy="3.8">condition: Expression, optional</tspan><tspan x="83.5" dy="3.8">allow_failure: Bool, default=false</tspan><tspan x="83.5" dy="3.8">secrets: List&lt;SecretRef&gt;, optional</tspan><tspan x="83.5" dy="3.8">services: List&lt;ServiceContainer&gt;</tspan><tspan x="83.5" dy="3.8">volumes: List&lt;VolumeMount&gt;, optional</tspan><tspan x="83.5" dy="3.8">user: String, optional</tspan><tspan x="83.5" dy="3.8">shell: String, default=/bin/sh</tspan><tspan x="83.5" dy="3.8">entrypoint: List&lt;String&gt;</tspan><tspan x="83.5" dy="3.8">privileged: Bool</tspan><tspan x="83.5" dy="3.8">network: String</tspan><tspan x="83.5" dy="3.8">labels</tspan><tspan x="83.5" dy="3.8">annotations</tspan><tspan x="83.5" dy="3.8">status: StepStatus, computed</tspan><tspan x="83.5" dy="3.8">started_at: Timestamp</tspan><tspan x="83.5" dy="3.8">finished_at</tspan><tspan x="83.5" dy="3.8">exit_code</tspan></text></g>
<g id="n_G2" class="node" transform="translate(516,447)"><rect width="162" height="41.8"/><text y="2.8"><tspan x="81">SidecarConfig (ServiceMeshConfig.sidecar) · proxy image, resources, injection — optional</tspan><tspan x="81" dy="3.8">image: ImageRef</tspan><tspan x="81" dy="3.8">resources: ResourceRequirements</tspan><tspan x="81" dy="3.8">injection: InjectionMode, auto</tspan><tspan x="81" dy="3.8">log_level: LogLevel, warn</tspan><tspan x="81" dy="3.8">concurrency: Int, default=2</tspan><tspan x="81" dy="3.8">inbound_ports: List&lt;Port&gt;</tspan><tspan x="81" dy="3.8">outbound_ports: List&lt;Port&gt;</tspan><tspan x="81" dy="3.8">drain_duration</tspan><tspan x="81" dy="3.8">hold_application</tspan><tspan x="81" dy="3.8">enabled</tspan></text></g>
<g id="n_H1" class="node" transform="translate(345,481)"><rect width="157" height="91.2"/><text y="2.8"><tspan x="78.5">NodeInfo (nodes) · List&lt;NodeInfo&gt; — cluster node inventory, dynamic, refreshed every 30s</tspan><tspan x="78.5" dy="3.8">name: String</tspan><tspan x="78.5" dy="3.8">address: IpAddress</tspan><tspan x="78.5" dy="3.8">hostname: String</tspan><tspan x="78.5" dy="3.8">role: NodeRole, worker</tspan><tspan x="78.5" dy="3.8">pool: NodePoolRef</tspan><tspan x="78.5" dy="3.8">zone: Zone</tspan><tspan x="78.5" dy="3.8">instance_type: String</tspan><tspan x="78.5" dy="3.8">capacity: Resources</tspan><tspan x="78.5" dy="3.8">allocatable: Resources</tspan><tspan x="78.5" dy="3.8">conditions: List&lt;NodeCondition&gt;</tspan><tspan x="78.5" dy="3.8">taints: List&lt;Taint&gt;, optional</tspan><tspan x="78.5" dy="3.8">labels: Map&lt;String, String&gt;</tspan><tspan x="78.5" dy="3.8">kernel_version: String</tspan><tspan x="78.5" dy="3.8">os_image: String</tspan><tspan x="78.5" dy="3.8">runtime_version: String</tspan><tspan x="78.5" dy="3.8">kubelet_version: String</tspan><tspan x="78.5" dy="3.8">pods: List&lt;PodRef&gt;</tspan><tspan x="78.5" dy="3.8">images: List&lt;ImageInfo&gt;</tspan><tspan x="78.5" dy="3.8">ready: Bool</tspan><tspan x="78.5" dy="3.8">unschedulable: Bool</tspan><tspan x="78.5" dy="3.8">created_at</tspan><tspan x="78.5" dy="3.8">heartbeat</tspan><tspan x="78.5" dy="3.8">uid</tspan></text></g>
<g id="n_H2" class="node" transform="translate(345,579)"><rect width="155" height="79.8"/><text y="2.8"><tspan x="77.5">NodePool (node_pools) · List&lt;NodePool&gt; — autoscaled groups of nodes, optional</tspan><tspan x="77.5" dy="3.8">name: String</tspan><tspan x="77.5" dy="3.8">machine_type: String</tspan><tspan x="77.5" dy="3.8">min_size: Int</tspan><tspan x="77.5" dy="3.8">max_size: Int</tspan><tspan x="77.5" dy="3.8">desired_size: Int</tspan><tspan x="77.5" dy="3.8">autoscaling: Bool, default=true</tspan><tspan x="77.5" dy="3.8">disk_size: Bytes, default=100G</tspan><tspan x="77.5" dy="3.8">disk_type: String, ssd</tspan><tspan x="77.5" dy="3.8">image_type: String</tspan><tspan x="77.5" dy="3.8">labels: Map&lt;String, String&gt;</tspan><tspan x="77.5" dy="3.8">taints: List&lt;Taint&gt;, optional</tspan><tspan x="77.5" dy="3.8">spot: Bool, default=false</tspan><tspan x="77.5" dy="3.8">max_pods: Int</tspan><tspan x="77.5" dy="3.8">upgrade_settings: UpgradeSettings</tspan><tspan x="77.5" dy="3.8">management: AutoRepair, AutoUpgrade</tspan><tspan x="77.5" dy="3.8">zones: List&lt;Zone&gt;</tspan><tspan x="77.5" dy="3.8">version</tspan><tspan x="77.5" dy="3.8">status</tspan><tspan x="77.5" dy="3.8">nodes</tspan><tspan x="77.5" dy="3.8">uid</tspan></text></g>
<g id="n_H3" class="node" transform="translate(360,663)"><rect width="100" height="30.4"/><text y="2.8"><tspan x="50">StorageClass (storage_classes) · provisioner, parameters</tspan><tspan x="50" dy="3.8">provisioner: String</tspan><tspan x="50" dy="3.8">parameters: Map&lt;String, String&gt;</tspan><tspan x="50" dy="3.8">reclaim_policy: Reclaim</tspan><tspan x="50" dy="3.8">binding_mode</tspan><tspan x="50" dy="3.8">expansion: Bool</tspan><tspan x="50" dy="3.8">default: Bool</tspan><tspan x="50" dy="3.8">mount_options</tspan></text></g>
<g id="n_I1" class="node" transform="translate(523,663)"><rect width="145" height="102.6"/><text y="2.8"><tspan x="72.5">ProvisionerParameters (StorageClass.parameters) · Map&lt;String, String&gt; — driver options</tspan><tspan x="72.5" dy="3.8">type: String</tspan><tspan x="72.5" dy="3.8">fs_type: String, ext4</tspan><tspan x="72.5" dy="3.8">iops: Int, optional</tspan><tspan x="72.5" dy="3.8">throughput: Int, optional</tspan><tspan x="72.5" dy="3.8">encrypted: Bool, default=true</tspan><tspan x="72.5" dy="3.8">kms_key: KeyRef, optional</tspan><tspan x="72.5" dy="3.8">replication: String, optional</tspan><tspan x="72.5" dy="3.8">zones: List&lt;Zone&gt;, optional</tspan><tspan x="72.5" dy="3.8">snapshot_class: String, optional</tspan><tspan x="72.5" dy="3.8">tags: Map&lt;String, String&gt;</tspan><tspan x="72.5" dy="3.8">block_size: Bytes, optional</tspan><tspan x="72.5" dy="3.8">inode_size: Bytes, optional</tspan><tspan x="72.5" dy="3.8">access_mode: AccessMode, rwo</tspan><tspan x="72.5" dy="3.8">volume_mode: VolumeMode, filesystem</tspan><tspan x="72.5" dy="3.8">backup: Bool, default=false</tspan><tspan x="72.5" dy="3.8">tier: String, standard</tspan><tspan x="72.5" dy="3.8">qos_policy: String, optional</tspan><tspan x="72.5" dy="3.8">compression: Bool</tspan><tspan x="72.5" dy="3.8">dedup: Bool</tspan><tspan x="72.5" dy="3.8">thin: Bool</tspan><tspan x="72.5" dy="3.8">pool: String</tspan><tspan x="72.5" dy="3.8">driver</tspan><tspan x="72.5" dy="3.8">version</tspan><tspan x="72.5" dy="3.8">secret_ref</tspan><tspan x="72.5" dy="3.8">labels</tspan><tspan x="72.5" dy="3.8">uid</tspan></text></g>
<g id="n_H4" class="node" transform="translate(360,702)"><rect width="107" height="45.6"/><text y="2.8"><tspan x="53.5">NetworkPolicy (network_policy) · ingress, egress rules</tspan><tspan x="53.5" dy="3.8">pod_selector: Selector</tspan><tspan x="53.5" dy="3.8">policy_types: List&lt;Type&gt;</tspan><tspan x="53.5" dy="3.8">ingress: List&lt;IngressRule&gt;</tspan><tspan x="53.5" dy="3.8">egress: List&lt;EgressRule&gt;</tspan><tspan x="53.5" dy="3.8">default_deny: Bool</tspan><tspan x="53.5" dy="3.8">namespaces: List&lt;String&gt;</tspan><tspan x="53.5" dy="3.8">cidrs: List&lt;CidrBlock&gt;</tspan><tspan x="53.5" dy="3.8">ports: List&lt;Port&gt;</tspan><tspan x="53.5" dy="3.8">priority</tspan><tspan x="53.5" dy="3.8">labels</tspan><tspan x="53.5" dy="3.8">uid</tspan></text></g>
<g id="n_H5" class="node" transform="translate(360,752)"><rect width="107" height="64.6"/><text y="2.8"><tspan x="53.5">LoadBalancerRef (load_balancer) · external, managed</tspan><tspan x="53.5" dy="3.8">name: String</tspan><tspan x="53.5" dy="3.8">type: LbType, network</tspan><tspan x="53.5" dy="3.8">scheme: Scheme, internet</tspan><tspan x="53.5" dy="3.8">ip_address: IpAddress</tspan><tspan x="53.5" dy="3.8">listeners: List&lt;Listener&gt;</tspan><tspan x="53.5" dy="3.8">target_groups: List&lt;TargetGroup&gt;</tspan><tspan x="53.5" dy="3.8">health_check: HealthCheck</tspan><tspan x="53.5" dy="3.8">ssl_policy: String, optional</tspan><tspan x="53.5" dy="3.8">idle_timeout: Duration</tspan><tspan x="53.5" dy="3.8">cross_zone: Bool</tspan><tspan x="53.5" dy="3.8">access_logs: LogTarget</tspan><tspan x="53.5" dy="3.8">firewall: List&lt;Rule&gt;</tspan><tspan x="53.5" dy="3.8">dns_name</tspan><tspan x="53.5" dy="3.8">zone_id</tspan><tspan x="53.5" dy="3.8">status</tspan><tspan x="53.5" dy="3.8">uid</tspan></text></g>
<g id="n_H6" class="node" transform="translate(357,822)"><rect width="113" height="45.6"/><text y="2.8"><tspan x="56.5">RoleBinding (rbac_bindings) · List&lt;RoleBinding&gt; — optional</tspan><tspan x="56.5" dy="3.8">role_ref: RoleRef</tspan><tspan x="56.5" dy="3.8">subjects: List&lt;Subject&gt;</tspan><tspan x="56.5" dy="3.8">namespace: String</tspan><tspan x="56.5" dy="3.8">kind: BindingKind</tspan><tspan x="56.5" dy="3.8">cluster_wide: Bool</tspan><tspan x="56.5" dy="3.8">expires_at: Timestamp</tspan><tspan x="56.5" dy="3.8">granted_by: UserRef</tspan><tspan x="56.5" dy="3.8">reason: String</tspan><tspan x="56.5" dy="3.8">labels</tspan><tspan x="56.5" dy="3.8">created_at</tspan><tspan x="56.5" dy="3.8">uid</tspan></text></g>
<g id="n_H7" class="node" transform="translate(377,873)"><rect width="66" height="30.4"/><text y="2.8"><tspan x="33">PolicyRef (policies) · enforced</tspan><tspan x="33" dy="3.8">name: String</tspan><tspan x="33" dy="3.8">engine: Engine</tspan><tspan x="33" dy="3.8">mode: Enforce</tspan><tspan x="33" dy="3.8">rules: List&lt;Rule&gt;</tspan><tspan x="33" dy="3.8">version</tspan><tspan x="33" dy="3.8">scope</tspan><tspan x="33" dy="3.8">uid</tspan></text></g>
<g id="n_H8" class="node" transform="translate(360,908)"><rect width="140" height="30.4"/><text y="2.8"><tspan x="70">MonitoringStack (monitoring) · prometheus, alertmanager, grafana — optional</tspan><tspan x="70" dy="3.8">prometheus: PromConfig</tspan><tspan x="70" dy="3.8">alertmanager: AmConfig</tspan><tspan x="70" dy="3.8">grafana: GrafanaConfig</tspan><tspan x="70" dy="3.8">exporters: List&lt;Exporter&gt;</tspan><tspan x="70" dy="3.8">retention: Duration</tspan><tspan x="70" dy="3.8">storage</tspan><tspan x="70" dy="3.8">enabled</tspan></text></g>
<g id="n_I2" class="node" transform="translate(527,908)"><rect width="140" height="45.6"/><text y="2.8"><tspan x="70">PromConfig (MonitoringStack.prometheus) · scrape configuration, retention — optional</tspan><tspan x="70" dy="3.8">scrape_interval: Duration</tspan><tspan x="70" dy="3.8">evaluation_interval: Duration</tspan><tspan x="70" dy="3.8">scrape_configs: List&lt;ScrapeConfig&gt;</tspan><tspan x="70" dy="3.8">rule_files: List&lt;Path&gt;</tspan><tspan x="70" dy="3.8">remote_write: List&lt;RemoteWrite&gt;</tspan><tspan x="70" dy="3.8">remote_read: List&lt;RemoteRead&gt;</tspan><tspan x="70" dy="3.8">external_labels: Map&lt;String, String&gt;</tspan><tspan x="70" dy="3.8">retention: Duration</tspan><tspan x="70" dy="3.8">storage: VolumeRef</tspan><tspan x="70" dy="3.8">replicas: Int</tspan><tspan x="70" dy="3.8">version</tspan></text></g>
</svg>
